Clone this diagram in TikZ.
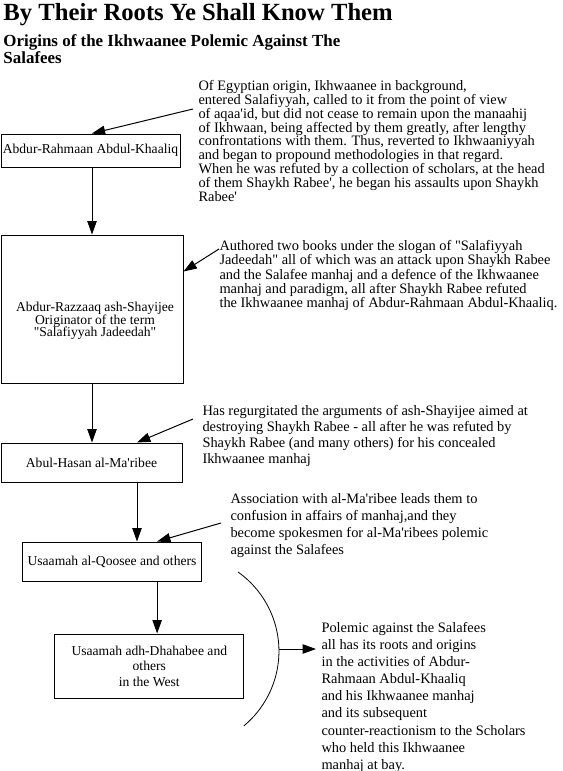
\documentclass[tikz,border=0pt]{standalone}
\usepackage{fontspec}
\setmainfont{Liberation Serif}[Ligatures=TeXOff]
\usepackage{tikz}
\usetikzlibrary{arrows.meta,calc}

\newcommand{\notesize}[1]{\fontsize{10.8pt}{#1}\selectfont}

\begin{document}
\begin{tikzpicture}[x=0.75pt, y=-0.75pt, draw=black, line width=0.75pt]
        \tikzstyle{boxtext}=[rectangle,inner sep=0pt,align=center,font=\fontsize{10.2pt}{9.4pt}\selectfont]
        \tikzstyle{box}=[boxtext,draw=black]
        \tikzstyle{note}=[anchor=north west,align=left,inner sep=0pt]
        \tikzstyle{arrow}=[-{Triangle[length=10pt,width=7pt]}]
        \useasboundingbox (0,0) rectangle (562,771);

        % Title and subtitle
        \node[anchor=base west,inner sep=0pt,font=\fontsize{18.5pt}{20pt}\selectfont\bfseries] (title) at (3,21) {By Their Roots Ye Shall Know Them};
        \node[note,font=\fontsize{12.7pt}{12.75pt}\selectfont\bfseries] (subtitle) at (3,34) {Origins of the Ikhwaanee Polemic Against The\\Salafees};

        % Draw the chain of boxes
        \node[box,minimum width=134.25pt,minimum height=24.75pt] (khaaliq) at (90.5,150.5) {Abdur-Rahmaan Abdul-Khaaliq};
        \node[box,minimum width=136.5pt,minimum height=111pt] (razzaaq) at (92,309) {};
        \node[boxtext] (razzaaqtext) at (95,321) {Abdur-Razzaaq ash-Shayijee\\Originator of the term\\"Salafiyyah Jadeedah"};
        \node[box,minimum width=135.75pt,minimum height=29.25pt] (maribee) at (91.5,462.5) {Abul-Hasan al-Ma'ribee};
        \node[box,minimum width=134.6pt,minimum height=29.25pt] (qoosee) at (112,561.5) {Usaamah al-Qoosee and others};
        \node[box,minimum width=142pt,minimum height=48pt,font=\fontsize{10.2pt}{11.6pt}\selectfont] (dhahabee) at (149.3,666) {Usaamah adh-Dhahabee and\\others\\in the West};

        % Draw the notes
        \node[note,font=\notesize{10.35pt}] (note1) at (198,80) {Of Egyptian origin, Ikhwaanee in background,\\entered Salafiyyah, called to it from the point of view\\of aqaa'id, but did not cease to remain upon the manaahij\\of Ikhwaan, being affected by them greatly, after lengthy\\confrontations with them. Thus, reverted to Ikhwaaniyyah\\and began to propound methodologies in that regard.\\When he was refuted by a collection of scholars, at the head\\of them Shaykh Rabee', he began his assaults upon Shaykh\\Rabee'};
        \node[note,font=\notesize{10.65pt}] (note2) at (219,240) {Authored two books under the slogan of "Salafiyyah\\Jadeedah" all of which was an attack upon Shaykh Rabee\\and the Salafee manhaj and a defence of the Ikhwaanee\\manhaj and paradigm, all after Shaykh Rabee refuted\\the Ikhwaanee manhaj of Abdur-Rahmaan Abdul-Khaaliq.};
        \node[note,font=\notesize{11.85pt}] (note3) at (202,405) {Has regurgitated the arguments of ash-Shayijee aimed at\\destroying Shaykh Rabee - all after he was refuted by\\Shaykh Rabee (and many others) for his concealed\\Ikhwaanee manhaj};
        \node[note,font=\notesize{12.75pt}] (note4) at (230,493) {Association with al-Ma'ribee leads them to\\confusion in affairs of manhaj,and they\\become spokesmen for al-Ma'ribees polemic\\against the Salafees};
        \node[note,font=\notesize{12.8pt}] (note5) at (321,622) {Polemic against the Salafees\\all has its roots and origins\\in the activities of Abdur-\\Rahmaan Abdul-Khaaliq\\and his Ikhwaanee manhaj\\and its subsequent\\counter-reactionism to the Scholars\\who held this Ikhwaanee\\manhaj at bay.};

        % Connect each box with the next one
        \coordinate (m1) at ($(maribee.south)!0.5!(maribee.south east)$);
        \coordinate (m2) at ($(qoosee.south)!0.5!(qoosee.south east)$);
        \draw[arrow] (khaaliq.south -| razzaaq.north) -- (razzaaq.north);
        \draw[arrow] (razzaaq.south) -- (razzaaq.south |- maribee.north);
        \draw[arrow] (m1) -- (m1 |- qoosee.north);
        \draw[arrow] (m2) -- (m2 |- dhahabee.north);

        % Connect the notes with the boxes
        \coordinate (n1) at (193,109);
        \coordinate (n2) at (219,249);
        \coordinate (n3) at (193,419);
        \coordinate (n4) at (221,523);
        \draw[arrow] (n1) -- ([xshift=1pt]khaaliq.north);
        \draw[arrow] (n2) -- ([yshift=-27.75pt]razzaaq.north east);
        \draw[arrow] (n3) -- ($(maribee.north)!0.5!(maribee.north east)$);
        \draw[arrow] (n4) -- ($(qoosee.north)!0.5!(qoosee.north east)$);

        % Bracket round the lower boxes
        \coordinate (arctop) at (238,572);
        \coordinate (arcmid) at (279,649);
        \coordinate (arctip) at (316,649);
        \draw[line width=0.6pt] (arctop) arc[start angle=54.7, end angle=-50.3, radius=72.75pt];
        \draw[arrow] (arcmid) -- (arctip);
\end{tikzpicture}
\end{document}
